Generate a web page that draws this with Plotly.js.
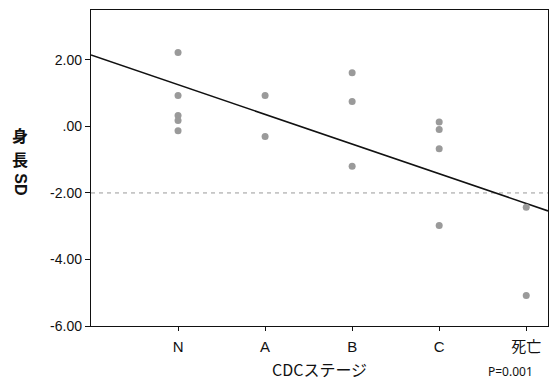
<!DOCTYPE html>
<html><head><meta charset="utf-8">
<script src="https://cdn.plot.ly/plotly-3.0.1.min.js"></script>
<style>html,body{margin:0;padding:0;background:#fff;}#chart{width:552px;height:382px;}</style>
</head><body><div id="chart"></div>
<script>
const categories = ["N", "A", "B", "C", "死亡"];
const catPositions = [1, 2, 3, 4, 5];
const stageN = [2.22, 0.93, 0.33, 0.18, -0.13];
const stageA = [0.93, -0.30];
const stageB = [1.61, 0.75, -1.20];
const stageC = [0.13, -0.09, -0.67, -2.98];
const stageDeath = [-2.43, -5.08];
const fitX = [0, 5.25];
const fitY = [2.15, -2.54];
const refLine = -2;
const yTickVals = [-6, -4, -2, 0, 2];
const yTickText = ["-6.00", "-4.00", "-2.00", ".00", "2.00"];

const groups = [stageN, stageA, stageB, stageC, stageDeath];
const px = [], py = [];
groups.forEach((g, i) => g.forEach(v => { px.push(catPositions[i]); py.push(v); }));

const traces = [
  {x: [0, 5.25], y: [refLine, refLine], mode: 'lines', line: {color: '#999', width: 1, dash: '4px,4px'}, hoverinfo: 'skip'},
  {x: fitX, y: fitY, mode: 'lines', line: {color: '#111', width: 1.6}},
  {x: px, y: py, mode: 'markers', marker: {color: '#9a9a9a', size: 7, line: {width: 0}}}
];
const font = {family: 'Liberation Sans, Arial, sans-serif', color: '#111', size: 14};
const layout = {
  width: 552, height: 382,
  margin: {l: 91, r: 4, t: 10, b: 56},
  showlegend: false,
  paper_bgcolor: '#fff', plot_bgcolor: '#fff',
  font: font,
  xaxis: {range: [0, 5.25], tickvals: catPositions, ticktext: categories, showgrid: false, zeroline: false,
          showline: true, linecolor: '#111', linewidth: 1.2, mirror: true, ticks: 'outside', ticklen: 4, tickcolor: '#111',
          ticklabelstandoff: 3,
          tickfont: {family: 'Liberation Sans, Noto Sans CJK JP, sans-serif', size: 15, color: '#111'}},
  yaxis: {range: [-6, 3.5], tickvals: yTickVals, ticktext: yTickText, showgrid: false, zeroline: false,
          showline: true, linecolor: '#111', linewidth: 1.2, mirror: true, ticks: 'outside', ticklen: 5, tickcolor: '#111',
          tickfont: {family: 'Liberation Sans, Arial, sans-serif', size: 14, color: '#111'}},
  annotations: [
    {text: 'CDCステージ', xref: 'paper', yref: 'paper', x: 0.5, y: -0.135, yanchor: 'middle', xanchor: 'center', showarrow: false,
     font: {family: 'Noto Sans CJK JP, sans-serif', size: 16, color: '#111'}},
    {text: 'P=0.001', xref: 'paper', yref: 'paper', x: 0.917, y: -0.143, yanchor: 'middle', xanchor: 'center', showarrow: false,
     font: {family: 'Noto Sans, sans-serif', size: 12, color: '#111'}},
    {text: '<b>身</b>', xref: 'paper', yref: 'paper', x: -0.155, xanchor: 'center', y: 0.603, yanchor: 'middle', showarrow: false,
     font: {family: 'Noto Sans CJK JP, sans-serif', size: 16, color: '#111'}},
    {text: '<b>長</b>', xref: 'paper', yref: 'paper', x: -0.155, xanchor: 'center', y: 0.527, yanchor: 'middle', showarrow: false,
     font: {family: 'Noto Sans CJK JP, sans-serif', size: 16, color: '#111'}},
    {text: '<b>SD</b>', xref: 'paper', yref: 'paper', x: -0.155, xanchor: 'center', y: 0.448, yanchor: 'middle', showarrow: false, textangle: 90,
     font: {family: 'Liberation Sans, Arial, sans-serif', size: 16, color: '#111'}}
  ]
};
Plotly.newPlot('chart', traces, layout, {displayModeBar: false, staticPlot: true});
</script></body></html>
